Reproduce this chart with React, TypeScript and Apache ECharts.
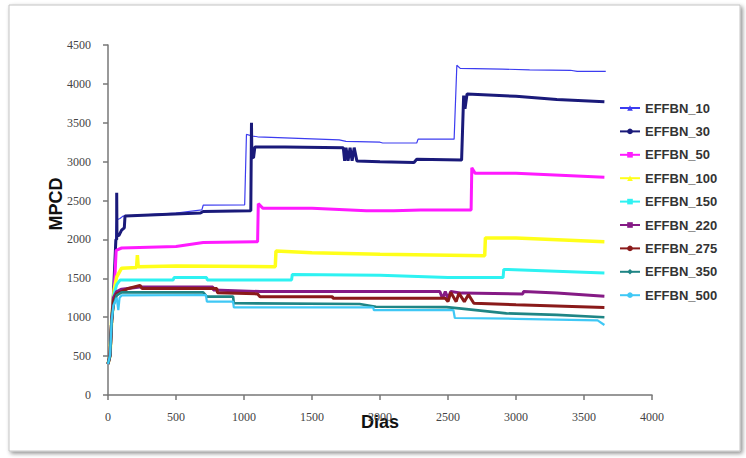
import React, { useEffect, useRef } from "react";
import * as echarts from "echarts";

const seriesNames = ["EFFBN_10", "EFFBN_30", "EFFBN_50", "EFFBN_100", "EFFBN_150", "EFFBN_220", "EFFBN_275", "EFFBN_350", "EFFBN_500"];
const seriesColors = ["#3c3cf0", "#1a1a7a", "#ff1aff", "#ffff1a", "#2ef2f2", "#851a85", "#8a1a1a", "#1f8585", "#3fc8f5"];
const seriesWidths = [1.2, 3, 3, 3.5, 3, 3, 3, 2.6, 2.2];
const seriesSymbols = ["triangle", "circle", "rect", "triangle", "rect", "rect", "circle", "diamond", "none"];

const xTicks = [0, 500, 1000, 1500, 2000, 2500, 3000, 3500, 4000];
const yTicks = [0, 500, 1000, 1500, 2000, 2500, 3000, 3500, 4000, 4500];

const effbn10 = [[0,400],[15,510],[27,960],[40,1300],[55,2000],[62,2250],[88,2270],[110,2300],[300,2320],[500,2340],[690,2380],[700,2440],[1005,2445],[1018,3350],[1060,3330],[1100,3320],[1400,3300],[1700,3280],[1750,3260],[2000,3250],[2020,3240],[2270,3240],[2280,3290],[2545,3290],[2565,4240],[2590,4200],[2900,4190],[3100,4180],[3400,4175],[3450,4160],[3660,4160]];
const effbn30 = [[0,400],[15,510],[27,960],[40,1300],[58,2000],[64,2000],[64,2600],[66,2050],[80,2050],[100,2120],[120,2150],[125,2300],[400,2320],[680,2340],[700,2360],[1050,2370],[1055,3500],[1058,3060],[1070,3050],[1080,3190],[1300,3190],[1730,3180],[1740,3010],[1750,3180],[1765,3010],[1780,3180],[1795,3010],[1810,3180],[1830,3010],[2000,3000],[2250,2990],[2270,3030],[2600,3020],[2615,3850],[2625,3680],[2640,3870],[3000,3840],[3300,3800],[3650,3770]];
const effbn50 = [[0,400],[15,510],[27,960],[45,1300],[60,1860],[100,1890],[500,1910],[700,1960],[1100,1970],[1105,2460],[1140,2400],[1500,2400],[1900,2370],[2100,2370],[2300,2380],[2670,2380],[2675,2920],[2700,2850],[3000,2850],[3650,2800]];
const effbn100 = [[0,400],[15,510],[27,960],[45,1350],[64,1520],[100,1630],[210,1640],[216,1800],[222,1650],[500,1660],[1230,1650],[1235,1850],[1500,1830],[2000,1810],[2770,1790],[2775,2020],[3000,2020],[3650,1970]];
const effbn150 = [[0,400],[15,510],[27,960],[45,1300],[64,1420],[90,1480],[480,1480],[485,1510],[725,1510],[730,1480],[1350,1480],[1355,1550],[2000,1540],[2500,1510],[2905,1510],[2910,1615],[3650,1570]];
const effbn220 = [[0,400],[15,510],[27,960],[40,1250],[64,1330],[100,1360],[235,1390],[770,1390],[775,1350],[1118,1330],[2440,1330],[2460,1240],[2480,1330],[2500,1240],[2520,1330],[2600,1310],[3050,1300],[3055,1330],[3300,1310],[3650,1270]];
const effbn275 = [[0,400],[15,510],[27,960],[40,1200],[64,1300],[150,1370],[235,1410],[250,1370],[800,1370],[805,1316],[1100,1300],[1118,1264],[1650,1264],[1655,1243],[2480,1243],[2500,1200],[2520,1320],[2560,1200],[2580,1310],[2620,1200],[2650,1290],[2690,1180],[3000,1160],[3650,1125]];
const effbn350 = [[0,400],[15,510],[27,960],[40,1150],[64,1280],[100,1320],[700,1320],[727,1265],[920,1265],[925,1180],[1850,1170],[1970,1135],[2490,1130],[2600,1110],[2930,1050],[3300,1030],[3650,1000]];
const effbn500 = [[0,400],[15,510],[27,960],[40,1150],[64,1250],[76,1090],[85,1250],[100,1280],[720,1286],[727,1200],[920,1200],[925,1127],[1950,1127],[1955,1090],[2540,1090],[2550,990],[3000,980],[3600,960],[3650,900]];

const seriesData = [effbn10, effbn30, effbn50, effbn100, effbn150, effbn220, effbn275, effbn350, effbn500];

export default function App() {
  const ref = useRef<HTMLDivElement>(null);
  useEffect(() => {
    if (!ref.current) return;
    const chart = echarts.init(ref.current, undefined, { renderer: "svg" });
    const tickFont = { fontFamily: "Liberation Serif", fontSize: 12, color: "#444", formatter: (v: number) => String(v) };
    chart.setOption({
      animation: false,
      backgroundColor: "#ffffff",
      grid: { left: 108, top: 45, right: 94, bottom: 63, containLabel: false },
      xAxis: {
        type: "value",
        min: xTicks[0],
        max: xTicks[xTicks.length - 1],
        interval: 500,
        splitLine: { show: false },
        axisLine: { show: true, lineStyle: { color: "#777", width: 1.5 } },
        axisTick: { show: true, length: 5, lineStyle: { color: "#777", width: 1.5 } },
        axisLabel: { ...tickFont, margin: 16 },
      },
      yAxis: {
        type: "value",
        min: yTicks[0],
        max: yTicks[yTicks.length - 1],
        interval: 500,
        splitLine: { show: false },
        axisLine: { show: true, lineStyle: { color: "#777", width: 1.5 } },
        axisTick: { show: true, length: 5, lineStyle: { color: "#777", width: 1.5 } },
        axisLabel: { ...tickFont, margin: 17 },
      },
      legend: {
        orient: "vertical",
        left: 614,
        top: 96,
        itemWidth: 20,
        itemHeight: 7,
        itemGap: 9.4,
        textStyle: { fontFamily: "Liberation Sans", fontSize: 13, fontWeight: "bold", color: "#333", lineHeight: 14 },
        data: seriesNames,
      },
      graphic: [
        {
          type: "rect",
          z: -10,
          silent: true,
          shape: { x: 9, y: 5, width: 731, height: 446 },
          style: { fill: "#fff", stroke: "#c4c4c4", lineWidth: 1, shadowBlur: 4, shadowColor: "rgba(0,0,0,0.45)", shadowOffsetX: 2, shadowOffsetY: 2 },
        },
        {
          type: "text",
          x: 380,
          y: 422,
          style: { text: "Dias", fontFamily: "Liberation Sans", fontSize: 18, fontWeight: "bold", fill: "#111", align: "center", verticalAlign: "middle" },
        },
        {
          type: "text",
          x: 56,
          y: 204,
          rotation: Math.PI / 2,
          style: { text: "MPCD", fontFamily: "Liberation Sans", fontSize: 18, fontWeight: "bold", fill: "#111", align: "center", verticalAlign: "middle" },
        },
      ],
      series: seriesNames.map((name, i) => ({
        name,
        type: "line",
        data: seriesData[i],
        showSymbol: false,
        symbol: seriesSymbols[i],
        symbolSize: 6,
        color: seriesColors[i],
        lineStyle: { color: seriesColors[i], width: seriesWidths[i] },
        itemStyle: { color: seriesColors[i] },
        emphasis: { disabled: true },
      })),
    });
    return () => chart.dispose();
  }, []);
  return <div ref={ref} style={{ position: "fixed", left: 0, top: 0, width: 746, height: 458 }} />;
}
